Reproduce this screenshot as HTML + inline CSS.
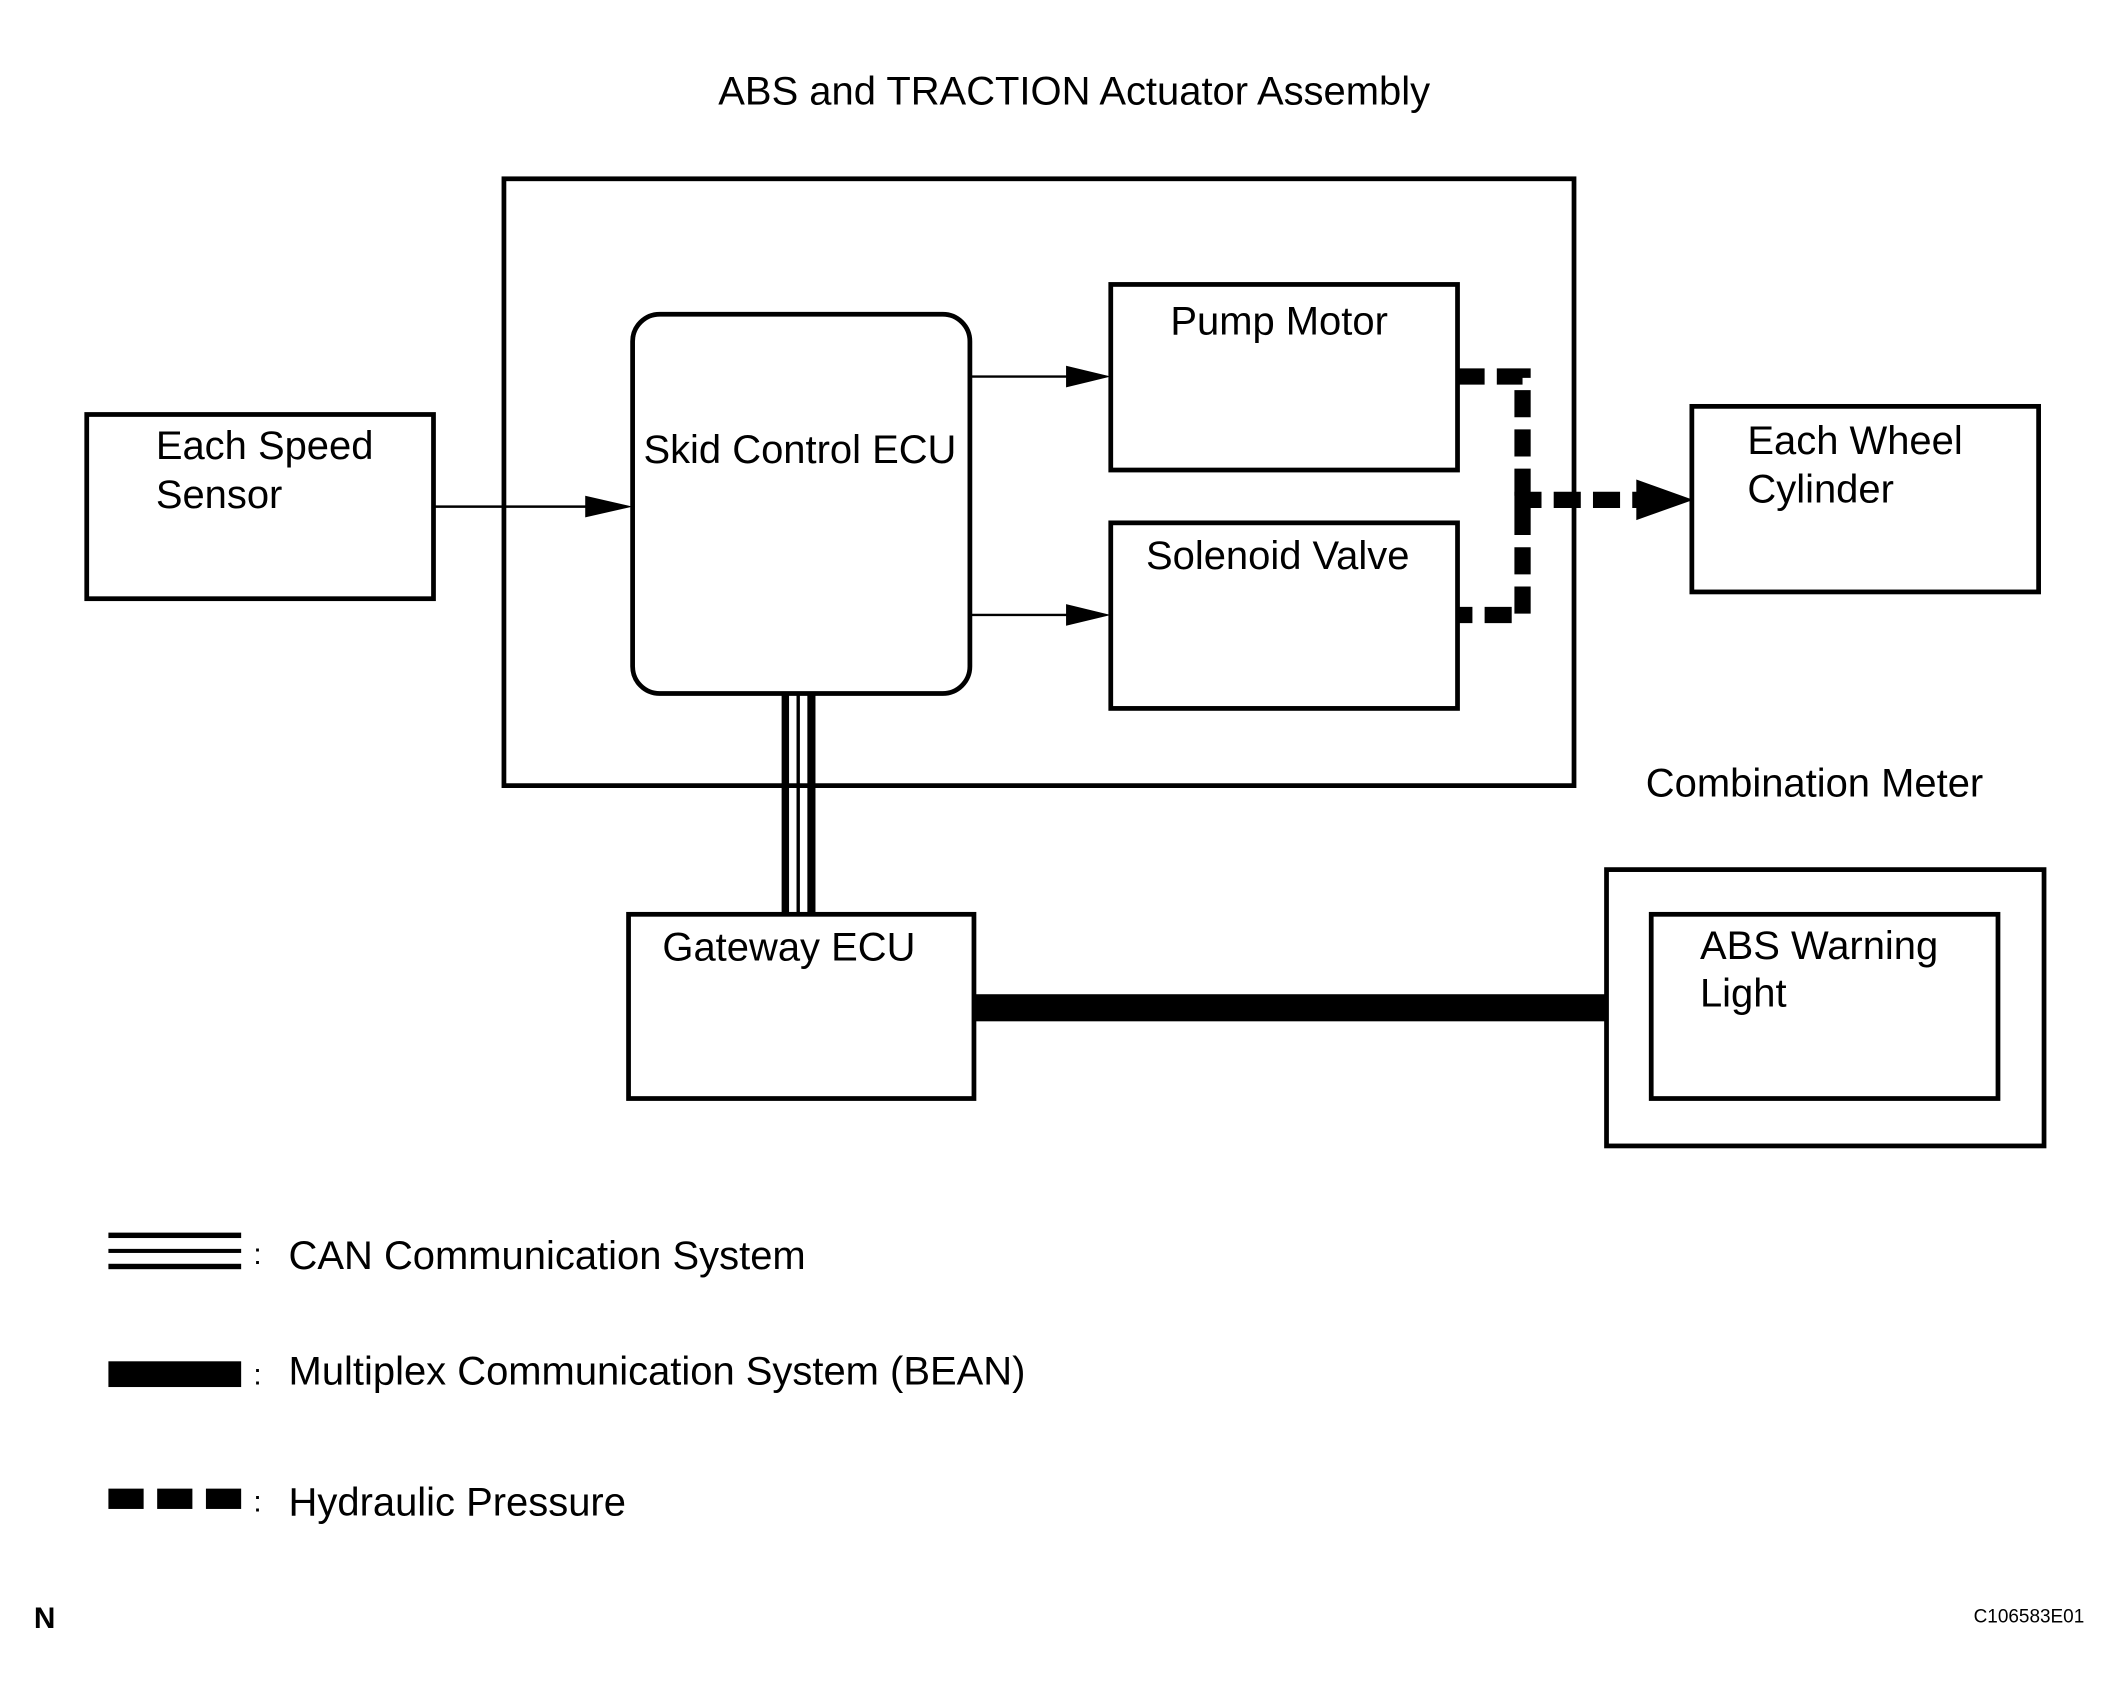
<!DOCTYPE html>
<html><head><style>html,body{margin:0;padding:0;background:#fff}svg{display:block}</style></head><body>
<svg width="2124" height="1704" viewBox="0 0 1568 1258" xmlns="http://www.w3.org/2000/svg" font-family="Liberation Sans, Arial, sans-serif" font-size="29.5" fill="#000">
<g fill="none" stroke="#000" stroke-width="3.5">
<rect x="372" y="132" width="790" height="448"/>
<rect x="467" y="232" width="249" height="280" rx="20"/>
<rect x="820" y="210" width="256" height="137"/>
<rect x="820" y="386" width="256" height="137"/>
<rect x="64" y="306" width="256" height="136"/>
<rect x="1249" y="300" width="256" height="137"/>
<rect x="1186" y="642" width="323" height="204"/>
<rect x="1219" y="675" width="256" height="136"/>
<rect x="464" y="675" width="255" height="136"/>
</g>
<g stroke="#000" stroke-width="1.8">
<line x1="320" y1="374" x2="440" y2="374"/>
<line x1="716" y1="278" x2="795" y2="278"/>
<line x1="716" y1="454" x2="795" y2="454"/>
</g>
<polygon points="432,366 467,374 432,382"/>
<polygon points="787,270 820,278 787,286"/>
<polygon points="787,446 820,454 787,462"/>
<g fill="none" stroke="#000" stroke-width="12" stroke-dasharray="20,9">
<polyline points="1076,278 1124,278 1124,454 1076,454"/>
<line x1="1118" y1="369" x2="1212" y2="369"/>
</g>
<polygon points="1208,354 1250,369 1208,384"/>
<rect x="577" y="512" width="5.5" height="163"/>
<rect x="588" y="512" width="2.5" height="163"/>
<rect x="596" y="512" width="6" height="163"/>
<rect x="719" y="734" width="467" height="20"/>
<rect x="80" y="910" width="98" height="4"/>
<rect x="80" y="922" width="98" height="3"/>
<rect x="80" y="933" width="98" height="4"/>
<rect x="80" y="1005" width="98" height="19"/>
<rect x="80" y="1099" width="26" height="15"/>
<rect x="116" y="1099" width="26" height="15"/>
<rect x="152" y="1099" width="26" height="15"/>
<text x="793" y="77" text-anchor="middle">ABS and TRACTION Actuator Assembly</text>
<text x="475" y="342">Skid Control ECU</text>
<text x="864" y="247">Pump Motor</text>
<text x="846" y="420">Solenoid Valve</text>
<text x="115" y="339">Each Speed</text>
<text x="115" y="375">Sensor</text>
<text x="1290" y="335">Each Wheel</text>
<text x="1290" y="371">Cylinder</text>
<text x="1215" y="588">Combination Meter</text>
<text x="1255" y="708">ABS Warning</text>
<text x="1255" y="743">Light</text>
<text x="489" y="709">Gateway ECU</text>
<text x="187" y="933" font-size="22">:</text>
<text x="213" y="937">CAN Communication System</text>
<text x="187" y="1022" font-size="22">:</text>
<text x="213" y="1022">Multiplex Communication System (BEAN)</text>
<text x="187" y="1116" font-size="22">:</text>
<text x="213" y="1119">Hydraulic Pressure</text>
<text x="25" y="1202" font-weight="bold" font-size="22">N</text>
<text x="1457" y="1198" font-size="14">C106583E01</text>
</svg>
</body></html>
